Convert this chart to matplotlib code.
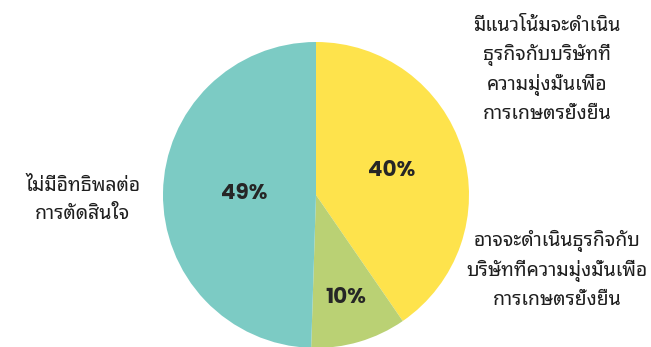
import numpy as np
import matplotlib
matplotlib.use('Agg')
from matplotlib import pyplot as plt

# ข้อมูล
labels = ['มีแนวโน้มจะดำเนิน\nธุรกิจกับบริษัทที่\nความมุ่งมั่นเพื่อ\nการเกษตรยั่งยืน',
          'อาจจะดำเนินธุรกิจกับ\nบริษัทที่ความมุ่งมั่นเพื่อ\nการเกษตรยั่งยืน',
          'ไม่มีอิทธิพลต่อ\nการตัดสินใจ']
values = [40, 10, 49]
colors = ['#FEE34C', '#BAD174', '#7CCBC4']

thai = ['Noto Sans Thai Looped', 'Noto Sans Thai', 'DejaVu Sans']
num_font = ['Poppins', 'Lato', 'DejaVu Sans']

fig = plt.figure(figsize=(6.51, 3.47), dpi=100)
ax = fig.add_axes([163 / 651, -1 / 347, 306 / 651, 306 / 347])

wedges, _ = ax.pie(values, colors=colors, startangle=90, counterclock=False,
                   radius=1, wedgeprops=dict(linewidth=0))
ax.set_xlim(-1, 1)
ax.set_ylim(-1, 1)
ax.set_aspect('equal')
ax.axis('off')

# nhãn phần trăm
dist = [0.52, 0.70, 0.47]
for w, v, d in zip(wedges, values, dist):
    ang = np.deg2rad((w.theta1 + w.theta2) / 2)
    ax.text(d * np.cos(ang), d * np.sin(ang), f'{v}%', ha='center', va='center',
            fontsize=15.5, fontweight='bold', color='#262626', family=num_font)

# nhãn chữ Thái
pos = [(547 / 651, 1 - 70 / 347), (557 / 651, 1 - 270 / 347), (83 / 651, 1 - 200 / 347)]
for lab, (x, y) in zip(labels, pos):
    fig.text(x, y, lab, ha='center', va='center', fontsize=14, color='#1e1e1e',
             family=thai, fontweight='bold', linespacing=1.5)

fig.savefig('out.png')
